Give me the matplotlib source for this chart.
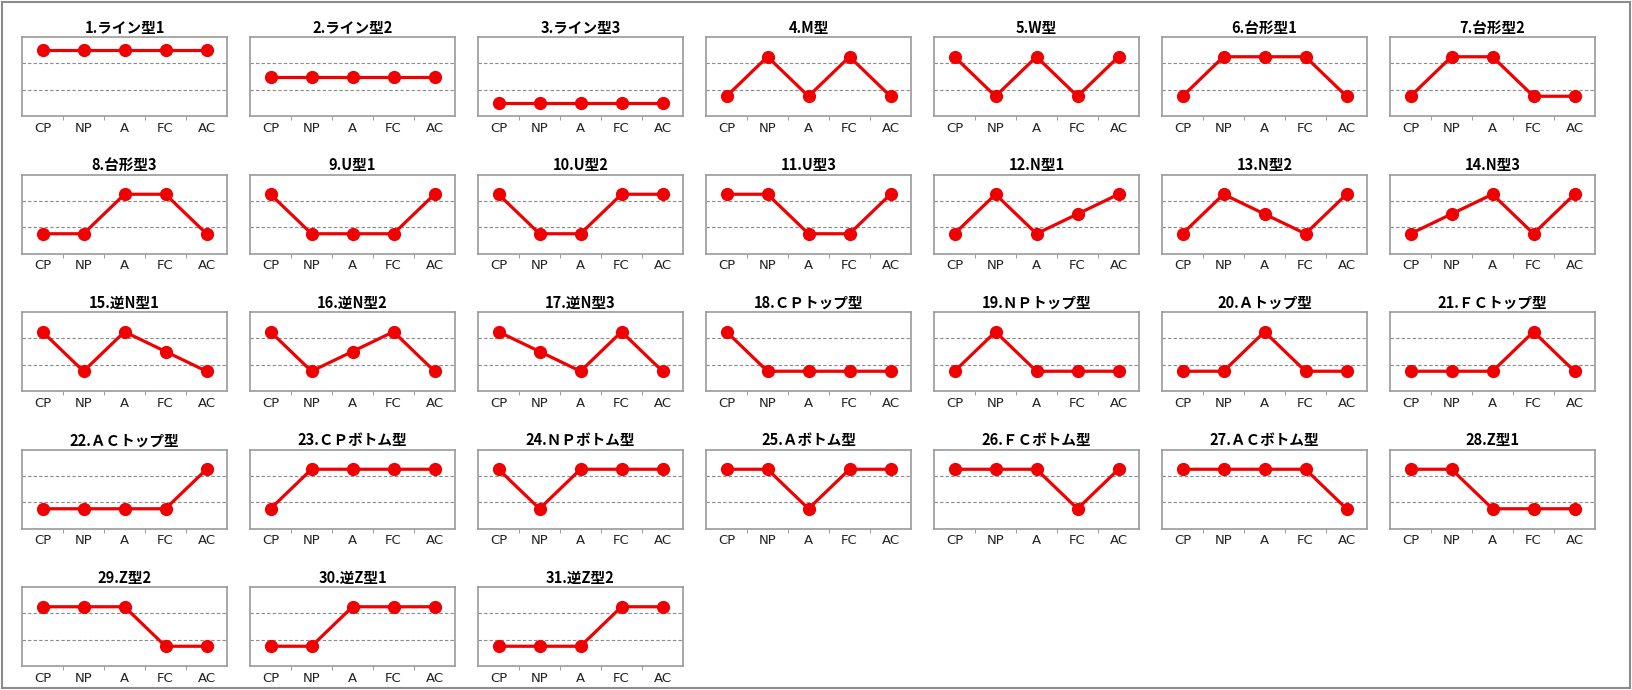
import matplotlib
matplotlib.use("Agg")
import matplotlib.pyplot as plt
from matplotlib.patches import Rectangle

plt.rcParams['font.family'] = ['Noto Sans CJK JP', 'DejaVu Sans']

# ---- datos ----
categorias = ['CP', 'NP', 'A', 'FC', 'AC']

titulos = [
    '1.ライン型1', '2.ライン型2', '3.ライン型3', '4.M型', '5.W型', '6.台形型1', '7.台形型2',
    '8.台形型3', '9.U型1', '10.U型2', '11.U型3', '12.N型1', '13.N型2', '14.N型3',
    '15.逆N型1', '16.逆N型2', '17.逆N型3', '18.ＣＰトップ型', '19.ＮＰトップ型', '20.Ａトップ型', '21.ＦＣトップ型',
    '22.ＡＣトップ型', '23.ＣＰボトム型', '24.ＮＰボトム型', '25.Ａボトム型', '26.ＦＣボトム型', '27.ＡＣボトム型', '28.Z型1',
    '29.Z型2', '30.逆Z型1', '31.逆Z型2',
]

H, M, L = 2.25, 1.5, 0.75

valores = [
    [2.5, 2.5, 2.5, 2.5, 2.5],
    [1.5, 1.5, 1.5, 1.5, 1.5],
    [0.5, 0.5, 0.5, 0.5, 0.5],
    [L, H, L, H, L],
    [H, L, H, L, H],
    [L, H, H, H, L],
    [L, H, H, L, L],
    [L, L, H, H, L],
    [H, L, L, L, H],
    [H, L, L, H, H],
    [H, H, L, L, H],
    [L, H, L, M, H],
    [L, H, M, L, H],
    [L, M, H, L, H],
    [H, L, H, M, L],
    [H, L, M, H, L],
    [H, M, L, H, L],
    [H, L, L, L, L],
    [L, H, L, L, L],
    [L, L, H, L, L],
    [L, L, L, H, L],
    [L, L, L, L, H],
    [L, H, H, H, H],
    [H, L, H, H, H],
    [H, H, L, H, H],
    [H, H, H, L, H],
    [H, H, H, H, L],
    [H, H, L, L, L],
    [H, H, H, L, L],
    [L, L, H, H, H],
    [L, L, L, H, H],
]

# ---- figura ----
W, Hpx = 1632, 690
fig = plt.figure(figsize=(W / 100, Hpx / 100), dpi=100)

# marco exterior
fig.add_artist(Rectangle((2 / W, 2 / Hpx), (W - 4) / W, (Hpx - 4) / Hpx,
                         transform=fig.transFigure, fill=False, ec='#8c8c8c', lw=1.5))

izq0, paso_x, ancho = 22, 228, 205
arriba0, paso_y, alto = 37, 137.5, 79
x = list(range(len(categorias)))

for i, (titulo, vals) in enumerate(zip(titulos, valores)):
    fila, col = divmod(i, 7)
    left = izq0 + col * paso_x
    top = arriba0 + fila * paso_y
    ax = fig.add_axes([left / W, 1 - (top + alto) / Hpx, ancho / W, alto / Hpx])

    ax.plot(x, vals, color='#f00000', lw=2.3, marker='o', markersize=8.5,
            markerfacecolor='#f00000', markeredgecolor='#f00000', zorder=3)
    for g in (1, 2):
        ax.axhline(g, color='#8a8a8a', lw=0.8, ls=(0, (3, 2)), zorder=1)

    ax.set_xlim(-0.5, 4.5)
    ax.set_ylim(0, 3)
    ax.set_yticks([])
    ax.set_xticks(x)
    ax.set_xticklabels(categorias, fontsize=9.5, color='#222222', family='DejaVu Sans')
    ax.tick_params(axis='x', which='major', length=0, pad=4)
    ax.set_xticks([0.5, 1.5, 2.5, 3.5], minor=True)
    ax.tick_params(axis='x', which='minor', length=3, color='#8a8a8a', direction='out')
    for s in ax.spines.values():
        s.set_color('#9a9a9a')
        s.set_linewidth(1.2)
    ax.set_title(titulo, fontsize=10.5, fontweight='bold', pad=3)

fig.savefig('out.png', dpi=100)
